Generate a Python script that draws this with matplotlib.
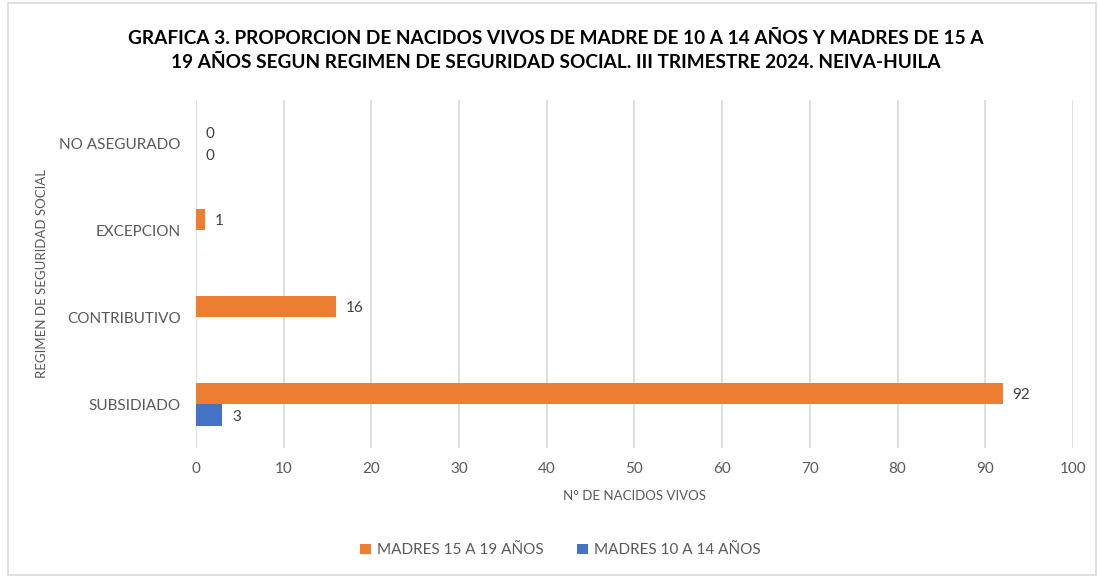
import numpy as np
import matplotlib
matplotlib.use("Agg")
from matplotlib import pyplot as plt
from matplotlib.patches import Rectangle

categorias = ["SUBSIDIADO", "CONTRIBUTIVO", "EXCEPCION", "NO ASEGURADO"]
madres_15_19 = [92, 16, 1, 0]
madres_10_14 = [3, np.nan, np.nan, 0]
ticks_x = list(range(0, 101, 10))

naranja = "#ED7D31"
azul = "#4472C4"
gris_txt = "#595959"

plt.rcParams['font.family'] = ['Lato', 'DejaVu Sans']

fig = plt.figure(figsize=(10.99, 5.77), dpi=100)
ax = fig.add_axes([0.1783, 0.2236, 0.7980, 0.6031])

y = np.arange(len(categorias))
h = 0.25
b1 = ax.barh(y + h / 2, madres_15_19, height=h, color=naranja, label="MADRES 15 A 19 AÑOS", zorder=3)
b2 = ax.barh(y - h / 2, madres_10_14, height=h, color=azul, label="MADRES 10 A 14 AÑOS", zorder=3)

for barras, vals in [(b1, madres_15_19), (b2, madres_10_14)]:
    for rect, v in zip(barras, vals):
        if np.isnan(v):
            continue
        ax.annotate("{:d}".format(int(v)), (rect.get_width(), rect.get_y() + rect.get_height() / 2),
                    xytext=(7, -1), textcoords="offset points", va="center", ha="left",
                    fontsize=11, color="#404040")

ax.set_xlim(0, 100)
ax.set_ylim(-0.5, 3.5)
ax.set_xticks(ticks_x)
ax.set_yticks(y)
ax.set_yticklabels(categorias)
ax.tick_params(axis="both", length=0, labelsize=11, labelcolor=gris_txt)
ax.tick_params(axis="y", pad=11)
ax.tick_params(axis="x", pad=10)
ax.grid(axis="x", color="#D9D9D9", linewidth=1.2, zorder=0)
for s in ax.spines.values():
    s.set_visible(False)

ax.set_xlabel("N° DE NACIDOS VIVOS", fontsize=9.5, color=gris_txt, labelpad=10)
ax.set_ylabel("REGIMEN DE SEGURIDAD SOCIAL", fontsize=9.5, color=gris_txt, labelpad=8)

fig.text(0.506, 0.912, "GRAFICA 3. PROPORCION DE NACIDOS VIVOS DE MADRE DE 10 A 14 AÑOS Y MADRES DE 15 A\n"
         "19 AÑOS SEGUN REGIMEN DE SEGURIDAD SOCIAL. III TRIMESTRE 2024. NEIVA-HUILA",
         ha="center", va="center", fontsize=13.7, fontweight="bold", color="black", linespacing=1.5)

fig.legend(handles=[b1, b2], loc="center", bbox_to_anchor=(0.51, 0.046), ncol=2, frameon=False,
           fontsize=11, handlelength=0.7, handleheight=0.7, columnspacing=2.2, handletextpad=0.4,
           labelcolor=gris_txt)

fig.patches.append(Rectangle((0.007, 0.003), 0.99, 0.992, transform=fig.transFigure,
                             fill=False, edgecolor="#D9D9D9", linewidth=1.2))

fig.savefig("out.png", dpi=100)
